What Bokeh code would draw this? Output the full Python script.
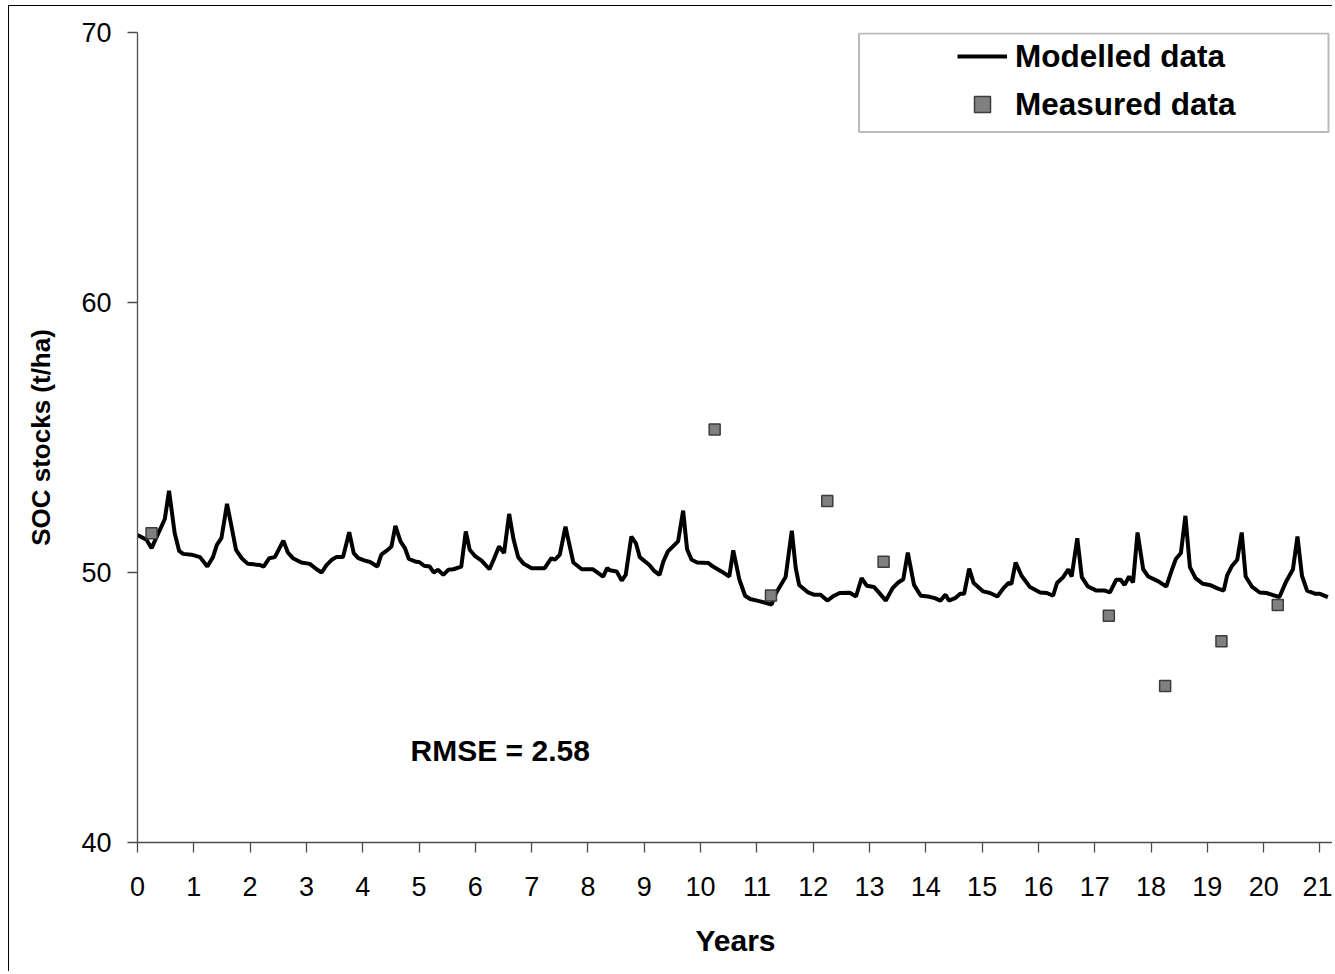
from bokeh.plotting import figure
from bokeh.models import (Range1d, FixedTicker, Legend, LegendItem, Label,
                          BoxAnnotation, ColumnDataSource)
from bokeh.embed import file_html
from bokeh.resources import INLINE

years_model = [
    0.00, 0.16, 0.25, 0.485, 0.56, 0.66, 0.74, 0.81, 0.96, 1.11, 1.24, 1.34, 1.41, 1.49,
    1.59, 1.67, 1.75, 1.85, 1.96, 2.17, 2.24, 2.34, 2.44, 2.59, 2.67, 2.76, 2.91, 3.06,
    3.18, 3.27, 3.36, 3.45, 3.53, 3.65, 3.76, 3.84, 3.92, 4.04, 4.13, 4.26, 4.33, 4.42,
    4.51, 4.58, 4.67, 4.75, 4.82, 4.93, 5.01, 5.09, 5.19, 5.26, 5.34, 5.43, 5.52, 5.61,
    5.75, 5.83, 5.90, 5.99, 6.11, 6.25, 6.33, 6.42, 6.51, 6.60, 6.68, 6.76, 6.86, 7.00,
    7.23, 7.35, 7.41, 7.50, 7.60, 7.74, 7.89, 8.09, 8.27, 8.34, 8.39, 8.51, 8.60, 8.67,
    8.77, 8.85, 8.92, 9.09, 9.17, 9.27, 9.34, 9.42, 9.60, 9.69, 9.76, 9.84, 9.94, 10.14,
    10.22, 10.37, 10.51, 10.58, 10.69, 10.79, 10.88, 11.02, 11.17, 11.26, 11.34, 11.51,
    11.62, 11.69, 11.75, 11.91, 12.01, 12.13, 12.25, 12.37, 12.47, 12.65, 12.76, 12.86,
    12.95, 13.08, 13.15, 13.29, 13.41, 13.51, 13.60, 13.68, 13.79, 13.91, 14.04, 14.16,
    14.26, 14.35, 14.41, 14.52, 14.61, 14.68, 14.77, 14.85, 15.02, 15.14, 15.27, 15.38,
    15.47, 15.52, 15.595, 15.70, 15.85, 16.03, 16.15, 16.26, 16.33, 16.44, 16.53, 16.59,
    16.69, 16.77, 16.88, 17.03, 17.18, 17.27, 17.38, 17.46, 17.53, 17.61, 17.68, 17.76,
    17.86, 17.95, 18.13, 18.27, 18.36, 18.44, 18.53, 18.61, 18.69, 18.79, 18.92, 19.04,
    19.19, 19.29, 19.35, 19.43, 19.53, 19.61, 19.68, 19.79, 19.93, 20.05, 20.28, 20.40,
    20.52, 20.60, 20.68, 20.77, 20.92, 21.00, 21.14,
]
soc_model = [
    51.39, 51.21, 50.90, 51.98, 53.03, 51.46, 50.80, 50.69, 50.66, 50.57, 50.22, 50.57, 51.02, 51.27,
    52.54, 51.70, 50.84, 50.53, 50.32, 50.28, 50.22, 50.53, 50.57, 51.18, 50.74, 50.53, 50.37, 50.32,
    50.12, 50.00, 50.28, 50.47, 50.57, 50.57, 51.49, 50.72, 50.53, 50.44, 50.39, 50.22, 50.66, 50.80,
    50.96, 51.73, 51.15, 50.90, 50.50, 50.41, 50.38, 50.25, 50.22, 50.00, 50.10, 49.91, 50.10, 50.12,
    50.22, 51.52, 50.84, 50.62, 50.44, 50.12, 50.50, 50.96, 50.72, 52.17, 51.21, 50.57, 50.32, 50.16,
    50.16, 50.53, 50.47, 50.66, 51.70, 50.37, 50.12, 50.12, 49.85, 50.16, 50.08, 50.04, 49.70, 49.91,
    51.33, 51.09, 50.57, 50.28, 50.07, 49.91, 50.41, 50.78, 51.15, 52.29, 50.86, 50.47, 50.37, 50.35,
    50.22, 50.04, 49.85, 50.82, 49.73, 49.14, 49.02, 48.95, 48.87, 48.81, 49.24, 49.83,
    51.55, 50.16, 49.54, 49.26, 49.18, 49.18, 48.96, 49.14, 49.24, 49.25, 49.11, 49.79,
    49.51, 49.46, 49.30, 48.96, 49.42, 49.63, 49.75, 50.74, 49.54, 49.14, 49.11, 49.05,
    48.96, 49.18, 48.96, 49.05, 49.21, 49.21, 50.14, 49.61, 49.30, 49.24, 49.11, 49.42,
    49.61, 49.58, 50.37, 49.88, 49.46, 49.26, 49.24, 49.14, 49.61, 49.83, 50.12, 49.85,
    51.27, 49.83, 49.48, 49.33, 49.33, 49.26, 49.73, 49.73, 49.54, 49.85, 49.63, 51.48,
    50.12, 49.85, 49.67, 49.48, 50.04, 50.50, 50.72, 52.10, 50.20, 49.79, 49.58, 49.54,
    49.40, 49.33, 49.88, 50.22, 50.47, 51.48, 49.85, 49.48, 49.26, 49.24, 49.09, 49.67,
    50.12, 51.33, 49.88, 49.33, 49.21, 49.21, 49.09,
]
years_measured = [0.25, 10.25, 11.25, 12.25, 13.25, 17.25, 18.25, 19.25, 20.25]
soc_measured = [51.45, 55.30, 49.15, 52.65, 50.40, 48.40, 45.80, 47.45, 48.80]
x_ticks = list(range(0, 22))
y_ticks = [40, 50, 60, 70]
x_title = "Years"
y_title = "SOC stocks (t/ha)"
rmse_text = "RMSE = 2.58"
legend_labels = ["Modelled data", "Measured data"]

FONT = "Liberation Sans"

p = figure(width=1324, height=966, output_backend="svg", toolbar_location=None,
           x_range=Range1d(0, 21.24), y_range=Range1d(40, 70),
           min_border_left=128, min_border_right=0, min_border_top=26,
           min_border_bottom=130, background_fill_color="white",
           border_fill_color="white", outline_line_color=None)
p.styles = {"margin-left": "8px", "margin-top": "5px",
            "border-top": "1.5px solid black", "border-left": "1.5px solid black"}

p.xgrid.visible = False
p.ygrid.visible = False

for ax in (p.xaxis[0], p.yaxis[0]):
    ax.axis_line_color = "#4d4d4d"
    ax.axis_line_width = 1.3
    ax.major_tick_line_color = "#4d4d4d"
    ax.major_tick_line_width = 1.3
    ax.major_tick_out = 10
    ax.major_tick_in = 0
    ax.minor_tick_line_color = None
    ax.major_label_text_font = FONT
    ax.major_label_text_font_size = "27px"
    ax.major_label_text_color = "black"
    ax.axis_label_text_font = FONT
    ax.axis_label_text_font_style = "bold"
    ax.axis_label_text_color = "black"

p.xaxis.ticker = FixedTicker(ticks=x_ticks)
p.yaxis.ticker = FixedTicker(ticks=y_ticks)
p.xaxis.axis_label = x_title
p.yaxis.axis_label = y_title
p.xaxis.axis_label_text_font_size = "30px"
p.yaxis.axis_label_text_font_size = "26px"
p.xaxis.major_label_standoff = 24
p.yaxis.major_label_standoff = 16
p.xaxis.axis_label_standoff = 25
p.yaxis.axis_label_standoff = 22

src_m = ColumnDataSource(dict(x=years_model, y=soc_model))
src_d = ColumnDataSource(dict(x=years_measured, y=soc_measured))

line = p.line("x", "y", source=src_m, line_color="black", line_width=4)
pts = p.scatter("x", "y", source=src_d, marker="square", size=11,
                fill_color="#808080", line_color="#3c3c3c", line_width=1.5)

legend = Legend(items=[LegendItem(label=legend_labels[0], renderers=[line]),
                       LegendItem(label=legend_labels[1], renderers=[pts])],
                location=(820, 718), padding=0, spacing=8,
                glyph_width=50, glyph_height=40, label_height=40,
                label_standoff=8, border_line_color=None,
                background_fill_alpha=0,
                label_text_font=FONT, label_text_font_style="bold",
                label_text_font_size="31.5px", label_text_color="black")
p.add_layout(legend)

box = BoxAnnotation(left=721.5, right=1191, top=809, bottom=710.5,
                    left_units="screen", right_units="screen",
                    top_units="screen", bottom_units="screen",
                    fill_color=None, line_color="#1a1a1a", line_width=2)
p.add_layout(box)

p.add_layout(Label(x=4.85, y=43.4, text=rmse_text, text_font=FONT,
                   text_font_style="bold", text_font_size="30px",
                   text_baseline="middle", text_color="black"))

open("out.html", "w").write(file_html(p, INLINE))
